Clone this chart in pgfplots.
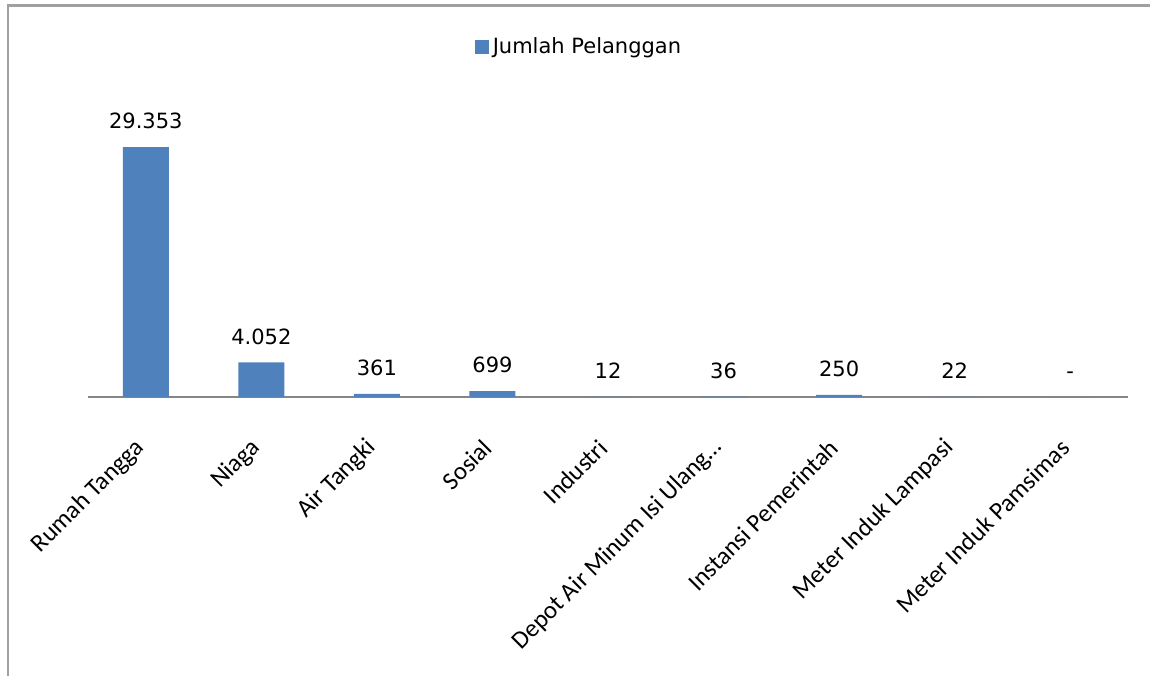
\documentclass[border=0pt]{standalone}
\usepackage{pgfplots}
\pgfplotsset{compat=1.18}
\usepackage{pgfplotstable}
\usepackage{fontspec}
\setmainfont{DejaVu Sans}
\newfontfamily\carlito{Carlito}
\definecolor{barblue}{HTML}{4F81BD}
\definecolor{framegray}{HTML}{A0A0A0}
\definecolor{axisgray}{HTML}{868686}

\pgfplotstableread{
x y label
0 29353 29.353
1 4052 4.052
2 361 361
3 699 699
4 12 12
5 36 36
6 250 250
7 22 22
8 0 -
}\datatable

\begin{document}
\begin{tikzpicture}
\useasboundingbox (0,0) rectangle (575pt,337.5pt);
\draw[framegray, line width=1.3pt] (4pt,-2pt) -- (4pt,334.75pt) -- (578pt,334.75pt);
\begin{axis}[
  at={(44pt,139pt)}, anchor=south west,
  scale only axis, width=520pt, height=149.05pt,
  xmin=-0.5, xmax=8.5, ymin=0, ymax=35000,
  axis x line=bottom, axis y line=none,
  x axis line style={-, axisgray, line width=0.75pt},
  xtick={0,...,8},
  xticklabels={Rumah Tangga, Niaga, Air Tangki, Sosial, Industri, Depot Air Minum Isi Ulang…, Instansi Pemerintah, Meter Induk Lampasi, Meter Induk Pamsimas},
  major tick length=0pt,
  xticklabel style={font=\carlito\fontsize{12.5}{14}\selectfont, yshift=-21pt, rotate=45, anchor=east},
  ytick=\empty,
  clip=false,
  ybar, bar width=23pt,
  nodes near coords, point meta=explicit symbolic,
  every node near coord/.append style={font=\fontsize{10.5}{12}\selectfont, anchor=base, inner sep=0pt, yshift=9.2pt},
  legend style={at={(axis description cs:0.473,1.174)}, anchor=center, draw=none, fill=none, font=\fontsize{10.5}{12}\selectfont, inner sep=0pt},
  legend image code/.code={\fill[#1] (0pt,-3.5pt) rectangle (7pt,3.5pt);},
]
\addplot[fill=barblue, draw=none] table[x=x, y=y, meta=label] {\datatable};
\addlegendentry{Jumlah Pelanggan}
\end{axis}
\end{tikzpicture}
\end{document}
